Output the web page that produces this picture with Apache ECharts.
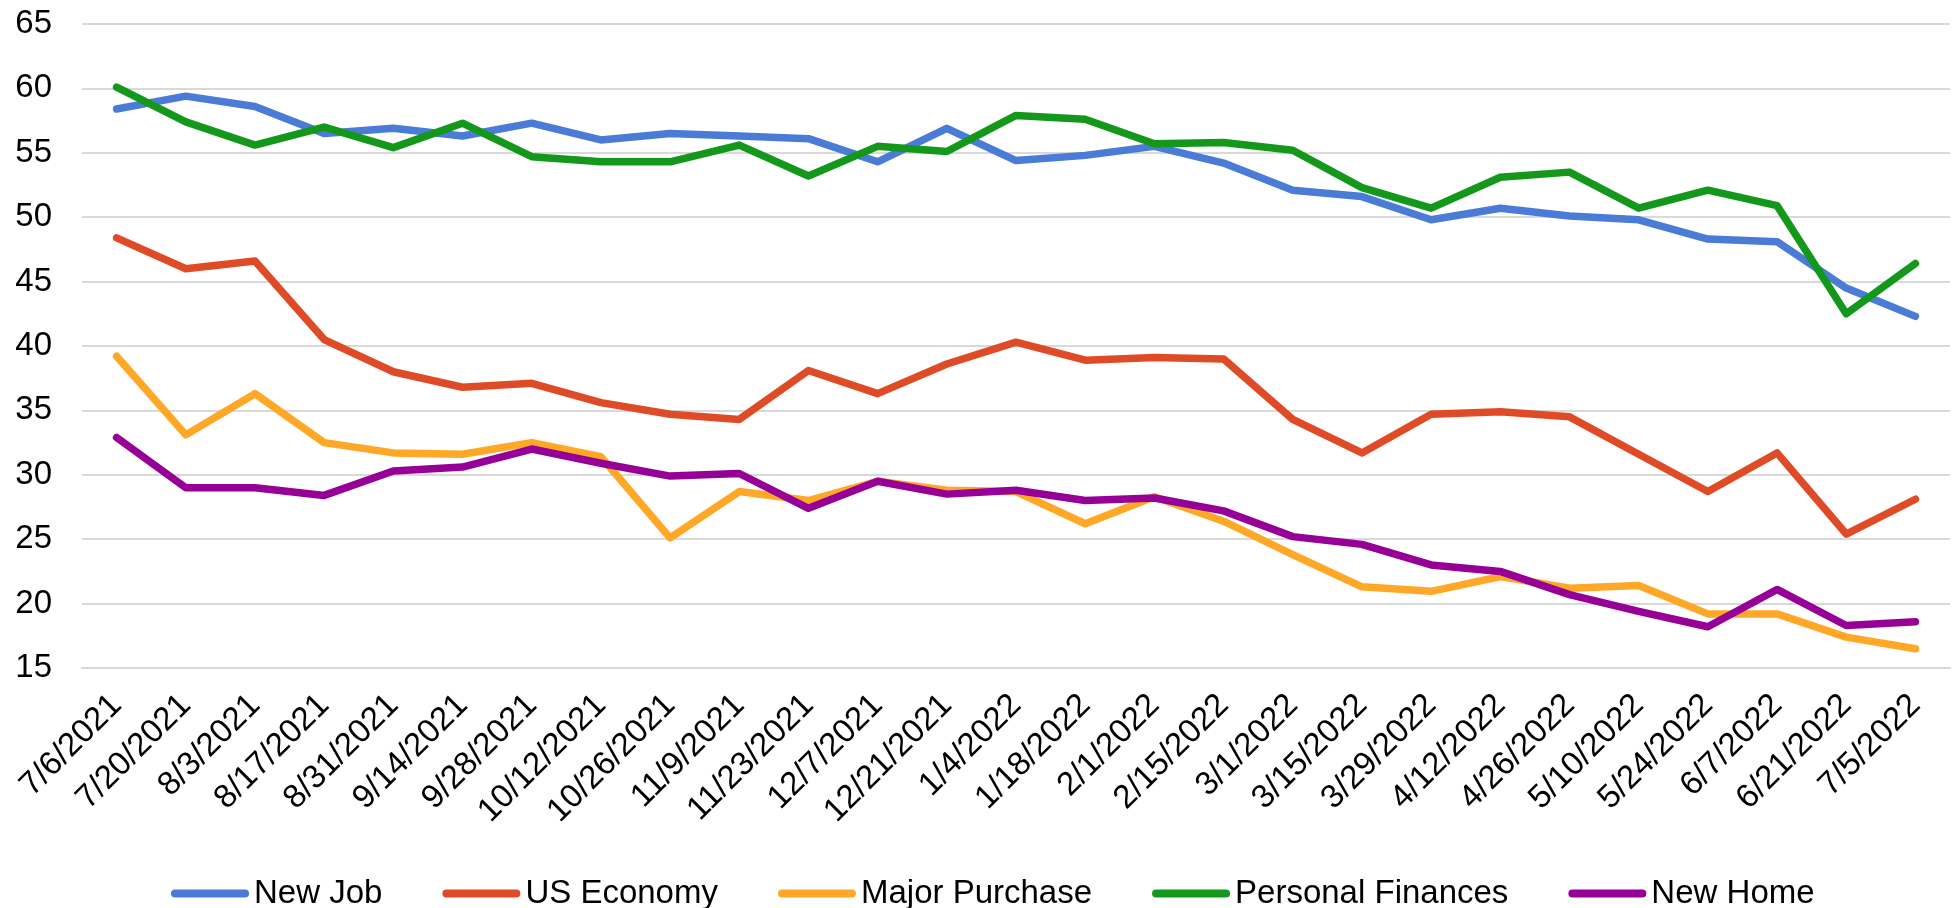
<!DOCTYPE html>
<html>
<head>
<meta charset="utf-8">
<script src="https://cdn.jsdelivr.net/npm/echarts@6/dist/echarts.min.js"></script>
<style>html,body{margin:0;padding:0;background:#fff;}#chart{width:1955px;height:908px;}</style>
</head>
<body>
<div id="chart"></div>
<script>
var categories = ['7/6/2021','7/20/2021','8/3/2021','8/17/2021','8/31/2021','9/14/2021','9/28/2021','10/12/2021','10/26/2021','11/9/2021','11/23/2021','12/7/2021','12/21/2021','1/4/2022','1/18/2022','2/1/2022','2/15/2022','3/1/2022','3/15/2022','3/29/2022','4/12/2022','4/26/2022','5/10/2022','5/24/2022','6/7/2022','6/21/2022','7/5/2022'];
var newJob = [58.4, 59.4, 58.6, 56.5, 56.9, 56.3, 57.3, 56.0, 56.5, 56.3, 56.1, 54.3, 56.9, 54.4, 54.8, 55.5, 54.2, 52.1, 51.6, 49.8, 50.7, 50.1, 49.8, 48.3, 48.1, 44.5, 42.3];
var usEconomy = [48.4, 46.0, 46.6, 40.5, 38.0, 36.8, 37.1, 35.6, 34.7, 34.3, 38.1, 36.3, 38.6, 40.3, 38.9, 39.1, 39.0, 34.3, 31.7, 34.7, 34.9, 34.5, 31.6, 28.7, 31.7, 25.4, 28.1];
var majorPurchase = [39.2, 33.1, 36.3, 32.5, 31.7, 31.6, 32.5, 31.4, 25.1, 28.7, 28.0, 29.5, 28.8, 28.7, 26.2, 28.3, 26.4, 23.8, 21.3, 20.95, 22.1, 21.2, 21.4, 19.2, 19.2, 17.4, 16.5];
var personalFinances = [60.1, 57.4, 55.6, 57.0, 55.4, 57.3, 54.7, 54.3, 54.3, 55.6, 53.2, 55.5, 55.1, 57.9, 57.6, 55.7, 55.8, 55.2, 52.3, 50.7, 53.1, 53.5, 50.7, 52.1, 50.9, 42.5, 46.4];
var newHome = [32.9, 29.0, 29.0, 28.4, 30.3, 30.6, 32.0, 30.9, 29.9, 30.1, 27.4, 29.5, 28.5, 28.8, 28.0, 28.2, 27.2, 25.2, 24.6, 23.0, 22.5, 20.7, 19.4, 18.2, 21.1, 18.3, 18.6];
var yTicks = {min: 15, max: 65, interval: 5};

var seriesDefs = [
  {name: 'New Job', data: newJob, color: '#4a7bd6'},
  {name: 'US Economy', data: usEconomy, color: '#df4b26'},
  {name: 'Major Purchase', data: majorPurchase, color: '#ffa726'},
  {name: 'Personal Finances', data: personalFinances, color: '#13981b'},
  {name: 'New Home', data: newHome, color: '#960096'}
];
var FONT = 'Arial, "Liberation Sans", sans-serif';
var chart = echarts.init(document.getElementById('chart'), null, {renderer: 'canvas'});
chart.setOption({
  backgroundColor: '#fff',
  animation: false,
  grid: {left: 82, right: 5, top: 24, bottom: 240, containLabel: false},
  legend: {
    top: 872,
    left: 166,
    itemWidth: 78,
    itemHeight: 8,
    itemGap: 60,
    icon: 'path://M4,0 H74 A4,4 0 0 1 74,8 H4 A4,4 0 0 1 4,0 Z',
    textStyle: {fontSize: 33, color: '#000', fontFamily: FONT},
    data: seriesDefs.map(function (s) { return s.name; })
  },
  xAxis: {
    type: 'category',
    data: categories,
    boundaryGap: true,
    axisLine: {show: true, lineStyle: {color: '#d9d9d9', width: 2}},
    axisTick: {show: false},
    axisLabel: {rotate: 45, interval: 0, margin: 32, fontSize: 33, color: '#000', fontFamily: FONT}
  },
  yAxis: {
    type: 'value',
    min: yTicks.min, max: yTicks.max, interval: yTicks.interval,
    axisLine: {show: false},
    axisTick: {show: false},
    splitLine: {show: true, lineStyle: {color: '#d9d9d9', width: 2}},
    axisLabel: {margin: 30, fontSize: 33, color: '#000', fontFamily: FONT}
  },
  series: seriesDefs.map(function (s) {
    return {
      name: s.name, type: 'line', data: s.data,
      showSymbol: false, symbol: 'none',
      itemStyle: {color: s.color},
      lineStyle: {color: s.color, width: 7.5, cap: 'round', join: 'round'}
    };
  })
});
</script>
</body>
</html>
